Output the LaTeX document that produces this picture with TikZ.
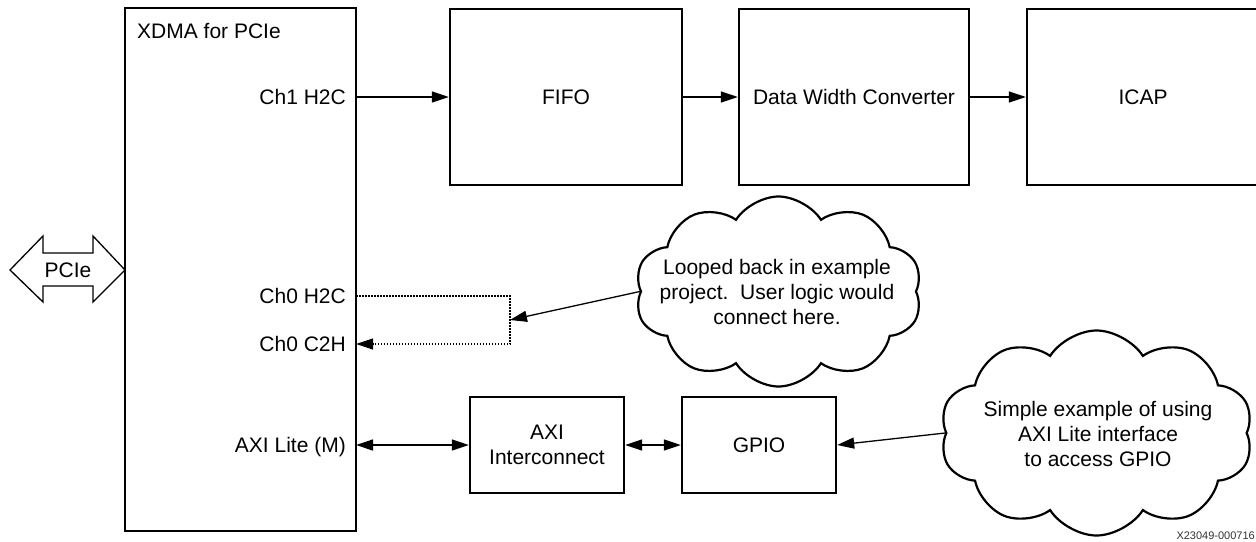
\documentclass[tikz,border=0pt]{standalone}
\usepackage{fontspec}
\setmainfont{Liberation Sans}
\usetikzlibrary{arrows.meta,shapes.symbols}
\begin{document}
\begin{tikzpicture}[x=1pt,y=-1pt,
  txt/.style={font=\fontsize{21}{25}\selectfont, inner sep=0pt},
  blk/.style={draw, line width=2.4pt, rectangle, inner sep=0pt, align=center, txt},
  tipA/.tip={Triangle[length=17pt,width=11pt]},
  conn/.style={line width=1.3pt, -tipA},
  bconn/.style={line width=1.3pt, tipA-tipA},
  loopline/.style={line width=1.2pt, dash pattern=on 1.5pt off 1.5pt, -tipA},
  puff/.style={draw, cloud, cloud puffs=10, cloud puff arc=115, line width=2.2pt, inner sep=0pt},
  ctext/.style={txt, align=center}
]
\useasboundingbox (0,0) rectangle (1256,541);

% blocks
\node[blk, minimum width=231pt, minimum height=523pt] (xdma) at (240.5,269.5) {};
\node[txt, anchor=base west] (xdmat) at (137,38) {XDMA for PCIe};
\node[blk, minimum width=232pt, minimum height=176pt] (fifo) at (566,97) {FIFO};
\node[blk, minimum width=230pt, minimum height=176pt] (dwc) at (854,97) {Data Width Converter};
\node[blk, minimum width=232pt, minimum height=176pt] (icap) at (1143,97) {ICAP};
\node[blk, minimum width=154pt, minimum height=96pt] (axi) at (547,445) {AXI\\Interconnect};
\node[blk, minimum width=154pt, minimum height=96pt] (gpio) at (759,445) {GPIO};

% port labels
\node[txt, anchor=base east] (l1) at (346,104.5) {Ch1 H2C};
\node[txt, anchor=base east] (l2) at (346,303.5) {Ch0 H2C};
\node[txt, anchor=base east] (l3) at (346,351.5) {Ch0 C2H};
\node[txt, anchor=base east] (l4) at (346,452.5) {AXI Lite (M)};

% port coordinates
\coordinate (p1) at (356,97);
\coordinate (p0h) at (356,296);
\coordinate (p0c) at (356,344);
\coordinate (pax) at (356,445);
\coordinate (lb1) at (510,296);
\coordinate (lb2) at (510,344);
\coordinate (lbm) at (510,320);

% PCIe double arrow
\draw[line width=1.3pt, line join=miter] (10,270) -- (43,236) -- (43,253) -- (93,253) -- (93,236)
  -- (125,270) -- (93,302) -- (93,286) -- (43,286) -- (43,302) -- cycle;
\node[txt] (pcie) at (68,270) {PCIe};

% connectors
\draw[conn] (p1) -- (fifo.west);
\draw[conn] (fifo.east) -- (dwc.west);
\draw[conn] (dwc.east) -- (icap.west);
\draw[bconn] (pax) -- (axi.west);
\draw[bconn] (axi.east) -- (gpio.west);
\draw[loopline] (p0h) -- (lb1) -- (lb2) -- (p0c);

% clouds
\node[puff, aspect=1.6, minimum width=287pt, minimum height=190pt] (c1) at (778.5,291.5) {};
\node[ctext] (c1t) at (777,292) {Looped back in example\\project.\ \ User logic would\\connect here.};
\node[puff, aspect=1.6, minimum width=313pt, minimum height=205pt] (c2) at (1096.5,433) {};
\node[ctext] (c2t) at (1098,434) {Simple example of using\\AXI Lite interface\\to access GPIO};

\draw[conn] (c1.west) -- (lbm);
\draw[conn] (c2.west) -- (gpio.east);

% figure id
\node[font=\fontsize{11}{13}\selectfont, inner sep=0pt, anchor=south east, text=black!80] (fid) at (1255,540) {X23049-000716};
\end{tikzpicture}
\end{document}
